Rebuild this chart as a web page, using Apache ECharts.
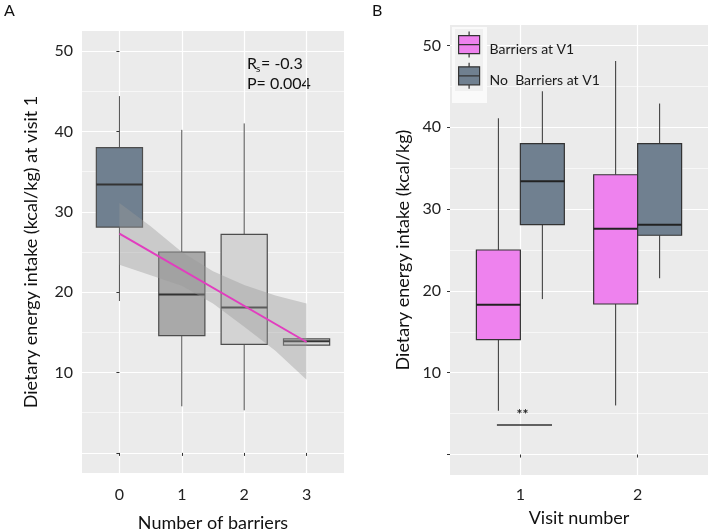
<!DOCTYPE html>
<html>
<head>
<meta charset="utf-8">
<script src="https://cdn.jsdelivr.net/npm/echarts@6/dist/echarts.min.js"></script>
<style>
  html, body { margin: 0; padding: 0; background: #fff; }
  #chart { width: 709px; height: 531px; }
</style>
</head>
<body>
<div id="chart"></div>
<script>
// Panel A: intake at visit 1 by number of barriers
const barrierCats = [0, 1, 2, 3];
// each box: [min, q1, median, q3, max]
const boxesA = [
  [18.9, 28.1, 33.4, 38.0, 44.4],
  [5.8, 14.6, 19.7, 25.0, 40.2],
  [5.3, 13.5, 18.1, 27.2, 41.0],
  [13.4, 13.4, 13.9, 14.2, 14.2]
];
const fitX = [0, 3];
const fitY = [27.3, 13.8];
const bandX = [0, 0.5, 1, 1.5, 2, 2.5, 3];
const bandUpper = [31.1, 28.2, 25.0, 22.6, 20.9, 19.6, 18.6];
const bandLower = [23.4, 22.1, 20.8, 18.6, 15.7, 12.7, 9.1];

// Panel B: intake by visit, split by barriers at V1
const visitCats = [1, 2];
const boxesBarriers = [
  [5.35, 14.05, 18.3, 25.0, 41.1],
  [6.0, 18.4, 27.6, 34.2, 48.1]
];
const boxesNoBarriers = [
  [19.0, 28.1, 33.4, 38.0, 44.4],
  [21.55, 26.8, 28.1, 38.0, 42.9]
];
const sigBar = [0.8, 1.27, 3.6]; // x from, x to, y

const yTicks = [0, 10, 20, 30, 40, 50];
const yLabels = [10, 20, 30, 40, 50];
const yMinor = [5, 15, 25, 35, 45];

const FONT = 'Lato';
const fillsA = ['#708090', '#a9a9a9', '#d3d3d3', '#dcdcdc'];

function boxRender(halfW, offset, fills, stroke, medStroke) {
  return function (params, api) {
    const x = api.value(0) + offset;
    const pMin = api.coord([x, api.value(1)]);
    const pQ1 = api.coord([x, api.value(2)]);
    const pMed = api.coord([x, api.value(3)]);
    const pQ3 = api.coord([x, api.value(4)]);
    const pMax = api.coord([x, api.value(5)]);
    const left = api.coord([x - halfW, 0])[0];
    const right = api.coord([x + halfW, 0])[0];
    const fill = fills[params.dataIndex % fills.length];
    return {
      type: 'group',
      children: [
        { type: 'line', shape: { x1: pMin[0], y1: pMin[1], x2: pQ1[0], y2: pQ1[1] }, style: { stroke: stroke, lineWidth: 1 } },
        { type: 'line', shape: { x1: pQ3[0], y1: pQ3[1], x2: pMax[0], y2: pMax[1] }, style: { stroke: stroke, lineWidth: 1 } },
        { type: 'rect', shape: { x: left, y: pQ3[1], width: right - left, height: pQ1[1] - pQ3[1] }, style: { fill: fill, stroke: stroke, lineWidth: 1.2 } },
        { type: 'line', shape: { x1: left, y1: pMed[1], x2: right, y2: pMed[1] }, style: { stroke: medStroke, lineWidth: 2 } }
      ]
    };
  };
}

function toRows(xs, boxes) {
  return boxes.map((b, i) => [xs[i]].concat(b));
}

function yAxes(grid) {
  return [
    {
      type: 'value', gridIndex: grid, min: -2.5, max: 52.5,
      axisLine: { show: false },
      axisTick: { customValues: yTicks, length: 3, lineStyle: { color: '#333' } },
      axisLabel: { customValues: yLabels, fontSize: 16, color: '#222', margin: 9, fontFamily: FONT },
      splitLine: { lineStyle: { color: '#fff', width: 1.2 } }
    },
    {
      type: 'value', gridIndex: grid, min: -2.5, max: 52.5,
      axisLine: { show: false },
      axisTick: { show: false, customValues: yMinor },
      axisLabel: { show: false },
      splitLine: { lineStyle: { color: '#fff', width: 0.6 } }
    }
  ];
}

const boxIcon = 'path://M10.5,0L10.5,4M0,4L21,4L21,22L0,22ZM0,13L21,13M10.5,22L10.5,26';

const chart = echarts.init(document.getElementById('chart'));

const titleStyle = { fontSize: 18, color: '#111', fontFamily: FONT };
const yA = yAxes(0);
yA[0].name = 'Dietary energy intake (kcal/kg) at visit 1';
yA[0].nameLocation = 'middle';
yA[0].nameGap = 42;
yA[0].nameTextStyle = titleStyle;
const yB = yAxes(1);
yB[0].name = 'Dietary energy intake (kcal/kg)';
yB[0].nameLocation = 'middle';
yB[0].nameGap = 38;
yB[0].nameTextStyle = titleStyle;

const option = {
  animation: false,
  backgroundColor: '#fff',
  textStyle: { fontFamily: FONT },
  grid: [
    { left: 82, top: 31, width: 262, height: 442, show: true, backgroundColor: '#ebebeb', borderWidth: 0, outerBoundsMode: 'none' },
    { left: 450, top: 25, width: 258, height: 450, show: true, backgroundColor: '#ebebeb', borderWidth: 0, outerBoundsMode: 'none' }
  ],
  xAxis: [
    {
      type: 'value', gridIndex: 0, min: -0.6, max: 3.6,
      axisLine: { show: false },
      axisTick: { customValues: barrierCats, length: 3, lineStyle: { color: '#333' } },
      axisLabel: { customValues: barrierCats, fontSize: 16, color: '#222', margin: 14, fontFamily: FONT },
      splitLine: { lineStyle: { color: '#fff', width: 1.2 } },
      name: 'Number of barriers', nameLocation: 'middle', nameGap: 41,
      nameTextStyle: titleStyle
    },
    {
      type: 'value', gridIndex: 1, min: 0.4, max: 2.6,
      axisLine: { show: false },
      axisTick: { customValues: visitCats, length: 3, lineStyle: { color: '#333' } },
      axisLabel: { customValues: visitCats, fontSize: 16, color: '#222', margin: 12, fontFamily: FONT },
      splitLine: { lineStyle: { color: '#fff', width: 1.2 } },
      name: 'Visit number', nameLocation: 'middle', nameGap: 34,
      nameTextStyle: titleStyle
    }
  ],
  yAxis: yA.concat(yB),
  legend: {
    orient: 'vertical', left: 458, top: 31, padding: 0, itemGap: 4,
    itemWidth: 21, itemHeight: 26, selectedMode: false,
    formatter: '{t|{name}}',
    textStyle: {
      fontSize: 14, color: '#1a1a1a', fontFamily: FONT,
      rich: { t: { fontSize: 14, color: '#1a1a1a', fontFamily: FONT, padding: [10, 0, 0, 5] } }
    },
    data: [
      { name: 'Barriers at V1', icon: boxIcon, itemStyle: { color: '#ee82ee', borderColor: '#333', borderWidth: 1.2 } },
      { name: 'No  Barriers at V1', icon: boxIcon, itemStyle: { color: '#708090', borderColor: '#333', borderWidth: 1.2 } }
    ]
  },
  graphic: [
    { type: 'rect', z: 1, shape: { x: 452, y: 27, width: 35, height: 76 }, style: { fill: '#fafafa' } },
    { type: 'rect', z: 1, shape: { x: 455, y: 29, width: 28, height: 31 }, style: { fill: '#f0f0f0' } },
    { type: 'rect', z: 1, shape: { x: 455, y: 60, width: 28, height: 31 }, style: { fill: '#f0f0f0' } },
    { type: 'text', left: 4, top: 3, style: { text: 'A', fontSize: 16, fill: '#111', fontFamily: FONT } },
    { type: 'text', left: 372, top: 3, style: { text: 'B', fontSize: 16, fill: '#111', fontFamily: FONT } },
    { type: 'text', left: 247, top: 56, style: { text: 'R', fontSize: 16, fill: '#111', fontFamily: FONT } },
    { type: 'text', left: 256, top: 64, style: { text: 's', fontSize: 10, fill: '#111', fontFamily: FONT } },
    { type: 'text', left: 261, top: 56, style: { text: '= -0.3', fontSize: 16, fill: '#111', fontFamily: FONT } },
    { type: 'text', left: 247, top: 76, style: { text: 'P= 0.004', fontSize: 16, fill: '#111', fontFamily: FONT } }
  ],
  series: [
    {
      type: 'custom', name: 'boxesA', xAxisIndex: 0, yAxisIndex: 0, z: 2,
      renderItem: boxRender(0.37, 0, fillsA, '#4d4d4d', '#333'),
      data: toRows(barrierCats, boxesA)
    },
    {
      type: 'custom', name: 'band', xAxisIndex: 0, yAxisIndex: 0, z: 3,
      renderItem: function (params, api) {
        if (params.dataIndex !== 0) return null;
        const pts = bandX.map((x, i) => api.coord([x, bandUpper[i]]));
        for (let i = bandX.length - 1; i >= 0; i--) pts.push(api.coord([bandX[i], bandLower[i]]));
        return { type: 'polygon', shape: { points: pts }, style: { fill: 'rgba(153,153,153,0.4)' } };
      },
      data: bandX.map((x, i) => [x, bandUpper[i], bandLower[i]])
    },
    {
      type: 'line', name: 'fit', xAxisIndex: 0, yAxisIndex: 0, z: 4,
      symbol: 'none', lineStyle: { color: '#e23dbf', width: 2 },
      data: fitX.map((x, i) => [x, fitY[i]])
    },
    {
      type: 'custom', name: 'Barriers at V1', xAxisIndex: 1, yAxisIndex: 2, z: 2,
      itemStyle: { color: '#ee82ee' },
      renderItem: boxRender(0.1875, -0.1875, ['#ee82ee'], '#333', '#222'),
      data: toRows(visitCats, boxesBarriers)
    },
    {
      type: 'custom', name: 'No  Barriers at V1', xAxisIndex: 1, yAxisIndex: 2, z: 2,
      itemStyle: { color: '#708090' },
      renderItem: boxRender(0.1875, 0.1875, ['#708090'], '#333', '#222'),
      data: toRows(visitCats, boxesNoBarriers)
    },
    {
      type: 'custom', name: 'sig', xAxisIndex: 1, yAxisIndex: 2, z: 3,
      renderItem: function (params, api) {
        const a = api.coord([api.value(0), api.value(2)]);
        const b = api.coord([api.value(1), api.value(2)]);
        return {
          type: 'group',
          children: [
            { type: 'line', shape: { x1: a[0], y1: a[1], x2: b[0], y2: b[1] }, style: { stroke: '#333', lineWidth: 1.5 } },
            { type: 'text', x: (a[0] + b[0]) / 2 - 2, y: a[1] - 4, style: { text: '**', fontSize: 14, fontWeight: 'bold', fill: '#222', align: 'center', verticalAlign: 'bottom', fontFamily: FONT } }
          ]
        };
      },
      data: [sigBar]
    }
  ]
};

chart.setOption(option);
</script>
</body>
</html>
